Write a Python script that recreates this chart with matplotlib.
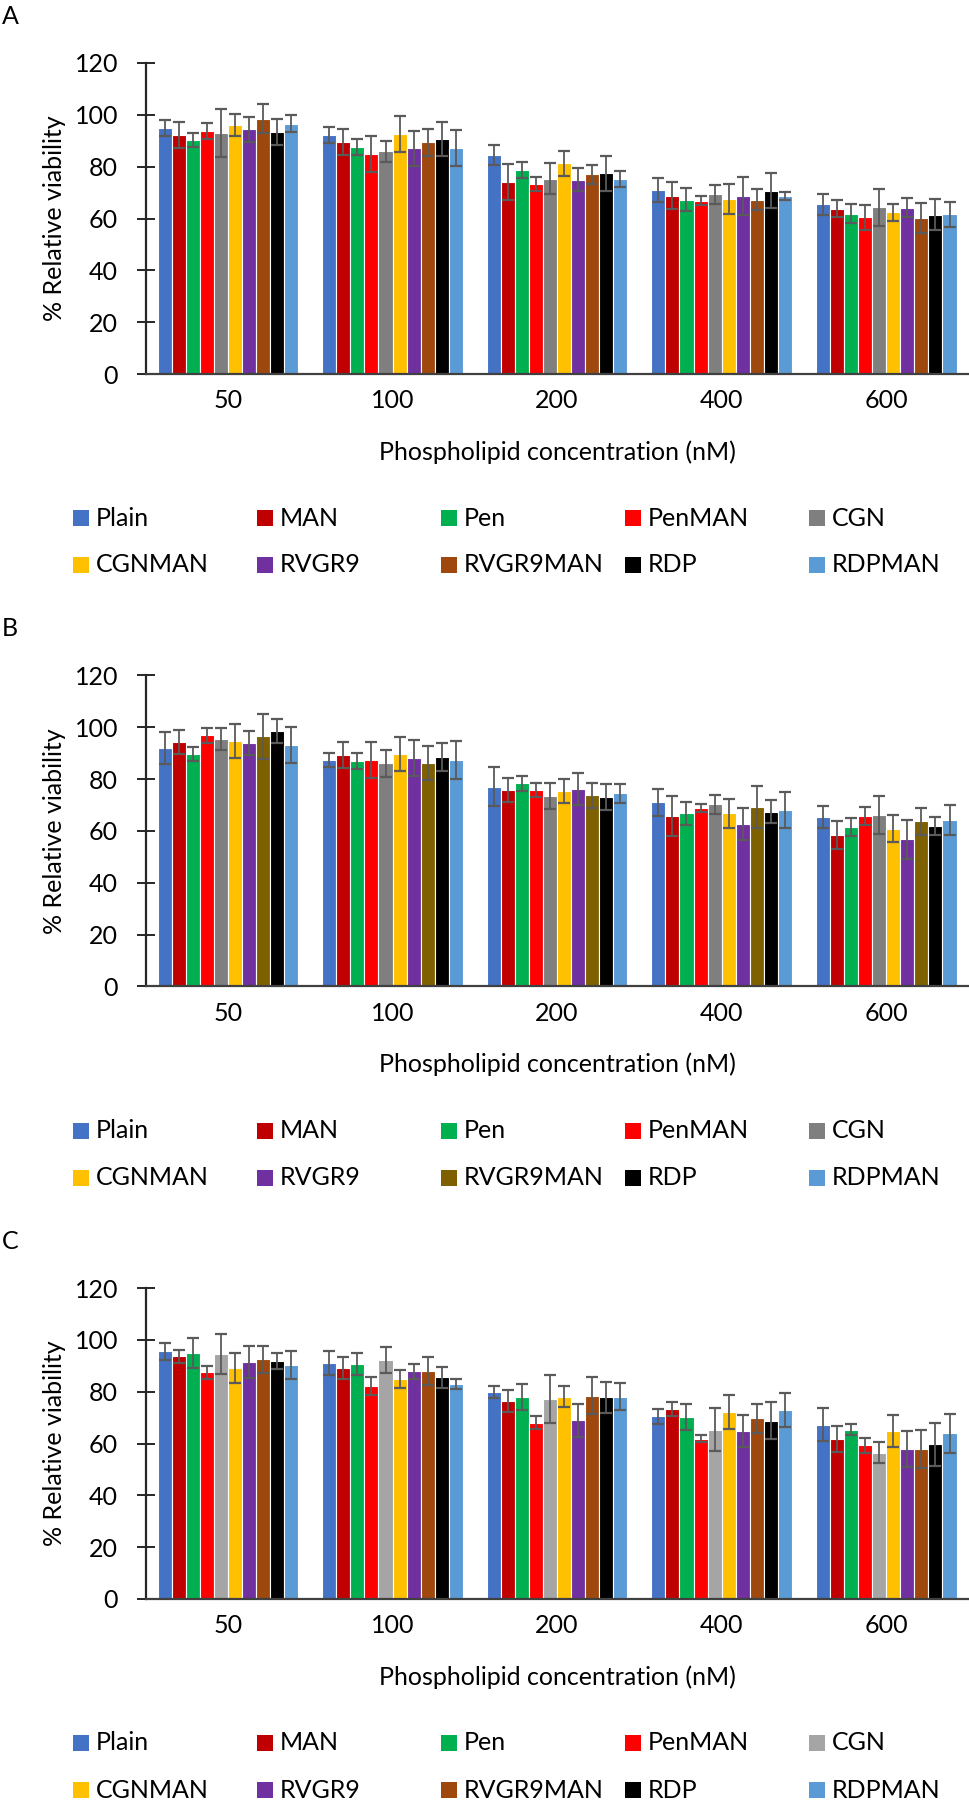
import numpy as np
import matplotlib.pyplot as plt
from matplotlib.patches import Rectangle

plt.rcParams['font.family'] = ['Lato', 'DejaVu Sans']

concentrations = ['50', '100', '200', '400', '600']
groups = ['Plain', 'MAN', 'Pen', 'PenMAN', 'CGN',
          'CGNMAN', 'RVGR9', 'RVGR9MAN', 'RDP', 'RDPMAN']

# colours per panel (CGN and RVGR9MAN shades change between panels)
colors_a = ['#4472C4', '#C00000', '#00B050', '#FF0000', '#7F7F7F',
            '#FFC000', '#7030A0', '#9E480E', '#000000', '#5B9BD5']
colors_b = ['#4472C4', '#C00000', '#00B050', '#FF0000', '#7F7F7F',
            '#FFC000', '#7030A0', '#7F6000', '#000000', '#5B9BD5']
colors_c = ['#4472C4', '#C00000', '#00B050', '#FF0000', '#A5A5A5',
            '#FFC000', '#7030A0', '#9E480E', '#000000', '#5B9BD5']

# rows = concentration, columns = group
mean_a = [[95.0, 92.2, 90.2, 93.9, 92.9, 96.1, 94.4, 98.4, 93.5, 96.6],
          [92.2, 89.5, 87.5, 84.9, 85.9, 92.5, 87.1, 89.4, 90.8, 87.1],
          [84.6, 74.1, 78.7, 73.3, 75.4, 81.3, 74.9, 77.0, 77.4, 75.2],
          [71.0, 68.8, 67.3, 66.9, 69.3, 67.7, 68.8, 67.3, 70.7, 68.7],
          [65.5, 63.8, 61.9, 60.5, 64.3, 62.4, 64.2, 60.1, 61.4, 61.7]]
err_a = [[3.0, 4.9, 2.7, 3.1, 9.3, 4.4, 4.7, 5.6, 5.0, 3.3],
         [3.1, 4.9, 3.0, 6.9, 4.0, 7.0, 6.7, 5.2, 6.6, 6.9],
         [3.9, 7.1, 3.0, 2.8, 5.9, 4.9, 4.4, 3.7, 6.9, 3.0],
         [4.5, 5.1, 4.4, 1.7, 3.8, 5.8, 7.3, 3.9, 6.7, 1.5],
         [4.0, 3.4, 3.8, 4.8, 7.2, 3.3, 3.8, 5.7, 6.0, 4.8]]

mean_b = [[92.0, 94.3, 89.7, 97.0, 95.6, 94.6, 94.0, 96.5, 98.7, 93.2],
          [87.4, 89.3, 87.1, 87.4, 86.2, 89.8, 88.2, 86.2, 88.5, 87.4],
          [77.1, 75.8, 78.4, 75.8, 73.4, 75.3, 76.2, 73.7, 73.2, 74.5],
          [71.0, 65.8, 66.9, 68.9, 70.3, 66.8, 62.7, 69.2, 67.4, 68.0],
          [65.4, 58.4, 61.6, 65.8, 66.2, 60.9, 56.8, 63.7, 61.9, 64.1]]
err_b = [[6.3, 4.5, 2.6, 2.9, 4.3, 6.5, 4.6, 8.8, 4.7, 6.9],
         [2.6, 5.1, 3.0, 6.8, 5.2, 6.5, 6.8, 6.5, 5.5, 7.2],
         [7.5, 4.8, 3.0, 2.8, 5.1, 4.6, 6.3, 4.8, 5.1, 3.7],
         [5.2, 7.6, 4.4, 1.7, 3.7, 5.7, 6.3, 8.1, 4.5, 6.9],
         [4.3, 5.5, 3.6, 3.4, 7.4, 5.2, 7.6, 5.3, 3.6, 5.8]]

mean_c = [[95.5, 93.6, 95.1, 87.5, 94.6, 89.1, 91.4, 92.5, 91.8, 90.2],
          [90.9, 89.1, 90.7, 82.2, 92.1, 84.8, 87.9, 88.0, 85.6, 82.9],
          [79.8, 76.4, 78.0, 68.1, 77.2, 78.1, 68.9, 78.4, 77.9, 78.1],
          [70.5, 73.4, 70.4, 61.9, 65.4, 72.2, 64.7, 69.7, 68.8, 73.0],
          [67.3, 61.9, 65.4, 59.3, 56.5, 64.7, 58.0, 57.9, 59.8, 64.0]]
err_c = [[3.3, 2.4, 5.8, 2.5, 7.7, 5.7, 6.2, 5.2, 3.0, 5.5],
         [4.6, 4.2, 4.4, 3.6, 5.0, 3.5, 2.9, 5.3, 4.0, 2.0],
         [2.3, 4.4, 5.1, 2.5, 9.1, 3.9, 6.3, 7.2, 6.0, 5.2],
         [2.9, 2.6, 5.0, 1.5, 8.3, 6.7, 6.2, 5.6, 7.1, 6.6],
         [6.3, 5.0, 2.1, 3.0, 4.1, 6.2, 6.9, 7.5, 8.3, 7.5]]

panels = [('A', mean_a, err_a, colors_a),
          ('B', mean_b, err_b, colors_b),
          ('C', mean_c, err_c, colors_c)]

W, H = 970, 1800
fig = plt.figure(figsize=(W / 100, H / 100), dpi=100)

FS = 18
step = 612.5          # vertical pitch between panels (px)
bw = 0.0855           # bar width in category units
x = np.arange(len(concentrations))

for p, (tag, means, errs, cols) in enumerate(panels):
    off = p * step
    ax = fig.add_axes([145.7 / W, 1 - (374 + off) / H, 822.8 / W, 311 / H])
    means = np.array(means)
    errs = np.array(errs)
    for k, name in enumerate(groups):
        ax.bar(x + (k - 4.5) * bw, means[:, k], bw, yerr=errs[:, k],
               color=cols[k], edgecolor='white', linewidth=0.8,
               error_kw=dict(ecolor='#5a5a5a', elinewidth=1.3,
                             capsize=4, capthick=1.6))

    ax.set_xlim(-0.5, 4.5)
    ax.set_ylim(0, 120)
    ax.set_yticks(np.arange(0, 121, 20))
    ax.set_xticks(x)
    ax.set_xticklabels(concentrations)
    for s in ['top', 'right']:
        ax.spines[s].set_visible(False)
    ax.spines['left'].set_color('#262626')
    ax.spines['left'].set_linewidth(1.6)
    ax.spines['bottom'].set_color('#404040')
    ax.spines['bottom'].set_linewidth(1.6)
    ax.tick_params(axis='y', direction='inout', length=13.4, width=1.4,
                   color='#262626', pad=13.2, labelsize=FS)
    ax.tick_params(axis='x', length=0, pad=11, labelsize=FS)

    ax.set_ylabel('% Relative viability', fontsize=FS)
    ax.yaxis.set_label_coords(-0.097, 0.5)
    ax.set_xlabel('Phospholipid concentration (nM)', fontsize=FS)
    ax.xaxis.set_label_coords(0.5, -0.212)

    fig.text(2 / W, 1 - (5 + off) / H, tag, fontsize=FS, va='top', ha='left')

    # legend, two rows of five like the original
    for k, name in enumerate(groups):
        cx = 73 + (k % 5) * 184
        cy = 518 + (k // 5) * 47 + off
        fig.add_artist(Rectangle((cx / W, 1 - (cy + 8) / H), 16 / W, 16 / H,
                                 transform=fig.transFigure,
                                 facecolor=cols[k], edgecolor='none'))
        fig.text((cx + 23) / W, 1 - cy / H, name, fontsize=FS,
                 va='center', ha='left')

fig.savefig('out.png', dpi=100, facecolor='white')
